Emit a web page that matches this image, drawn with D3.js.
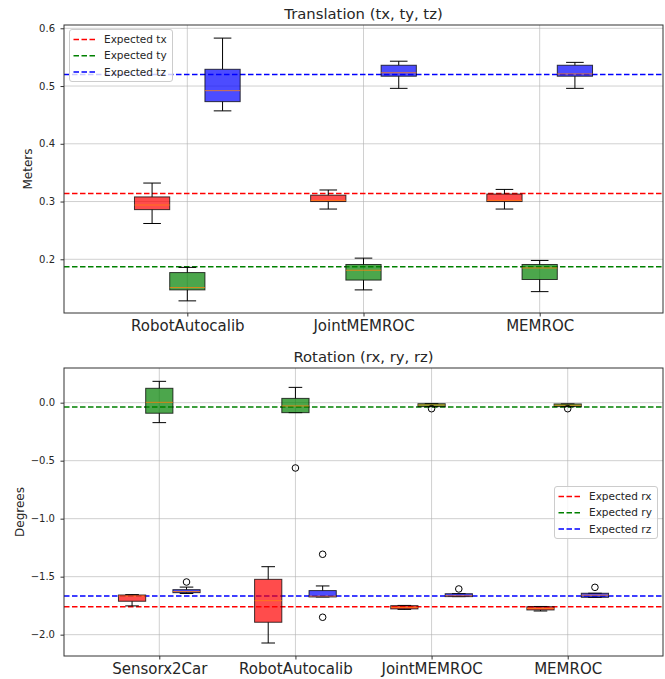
<!DOCTYPE html>
<html>
  <head>
    <meta charset="utf-8">
    <title>Translation and Rotation box plots</title>
    <script src="https://cdn.jsdelivr.net/npm/d3@7"></script>
    <style>
      body { margin: 0; background: #fff; }
      text { font-family: "DejaVu Sans", sans-serif; fill: #262626; }
    </style>
  </head>
  <body>
    <div id="chart"></div>

    <script>
      // Box stats: [low whisker, q1, median, q3, high whisker]
      const transMethods = ['RobotAutocalib', 'JointMEMROC', 'MEMROC'];
      const txStats = [[0.262, 0.286, 0.294, 0.308, 0.332], [0.287, 0.300, 0.302, 0.311, 0.320], [0.287, 0.300, 0.302, 0.313, 0.321]];
      const tyStats = [[0.128, 0.147, 0.151, 0.177, 0.186], [0.147, 0.164, 0.181, 0.191, 0.202], [0.144, 0.165, 0.185, 0.191, 0.198]];
      const tzStats = [[0.457, 0.473, 0.492, 0.529, 0.583], [0.496, 0.517, 0.523, 0.536, 0.543], [0.496, 0.517, 0.521, 0.536, 0.541]];
      const txOutliers = [[], [], []];
      const tyOutliers = [[], [], []];
      const tzOutliers = [[], [], []];
      const expectedT = [0.314, 0.187, 0.520];

      const rotMethods = ['Sensorx2Car', 'RobotAutocalib', 'JointMEMROC', 'MEMROC'];
      const rxStats = [[-1.752, -1.712, -1.667, -1.658, -1.655], [-2.072, -1.893, -1.707, -1.523, -1.414], [-1.782, -1.778, -1.765, -1.750, -1.748], [-1.796, -1.787, -1.775, -1.759, -1.757]];
      const ryStats = [[-0.172, -0.091, 0.003, 0.124, 0.184], [-0.086, -0.086, -0.028, 0.037, 0.132], [-0.034, -0.034, -0.020, -0.009, -0.009], [-0.034, -0.034, -0.022, -0.011, -0.011]];
      const rzStats = [[-1.645, -1.638, -1.628, -1.612, -1.590], [-1.675, -1.675, -1.668, -1.620, -1.580], [-1.672, -1.672, -1.665, -1.647, -1.647], [-1.678, -1.678, -1.660, -1.643, -1.643]];
      const rxOutliers = [[], [], [], []];
      const ryOutliers = [[], [-0.563], [-0.052], [-0.052]];
      const rzOutliers = [[-1.546], [-1.307, -1.850], [-1.606], [-1.592]];
      const expectedR = [-1.759, -0.037, -1.666];

      const colors = ['red', 'green', 'blue'];

      const svg = d3.select('#chart')
        .append('svg')
        .attr('width', 665)
        .attr('height', 679);

      function panel(opts) {
        const g = svg.append('g');
        const x = d3.scaleLinear().domain([0.3, opts.methods.length + 0.7]).range([64, 663]);
        const y = d3.scaleLinear().domain(opts.yDomain).range([opts.bottom, opts.top]);
        const unit = x(1) - x(0);

        // grid
        g.selectAll('.hgrid')
          .data(opts.yTicks)
          .enter()
          .append('line')
          .attr('x1', 64).attr('x2', 663)
          .attr('y1', d => y(d)).attr('y2', d => y(d))
          .attr('stroke', '#b0b0b0').attr('stroke-opacity', 0.6).attr('stroke-width', 1);
        g.selectAll('.vgrid')
          .data(opts.methods)
          .enter()
          .append('line')
          .attr('x1', (d, i) => x(i + 1)).attr('x2', (d, i) => x(i + 1))
          .attr('y1', opts.top).attr('y2', opts.bottom)
          .attr('stroke', '#b0b0b0').attr('stroke-opacity', 0.6).attr('stroke-width', 1);

        // expected lines
        g.selectAll('.expected')
          .data(opts.expected)
          .enter()
          .append('line')
          .attr('x1', 64).attr('x2', 663)
          .attr('y1', d => y(d)).attr('y2', d => y(d))
          .attr('stroke', (d, i) => colors[i])
          .attr('stroke-width', 1.5)
          .attr('stroke-dasharray', '5.5,2.5');

        // boxes
        opts.series.forEach((s, si) => {
          const offset = (si - 1) * 0.2;
          s.stats.forEach((st, mi) => {
            const cx = x(mi + 1 + offset);
            const bw = 0.2 * unit;
            const cw = bw / 2;
            const bx = g.append('g');
            // whiskers
            bx.append('line').attr('x1', cx).attr('x2', cx).attr('y1', y(st[0])).attr('y2', y(st[1]))
              .attr('stroke', '#000').attr('stroke-width', 1);
            bx.append('line').attr('x1', cx).attr('x2', cx).attr('y1', y(st[3])).attr('y2', y(st[4]))
              .attr('stroke', '#000').attr('stroke-width', 1);
            [st[0], st[4]].forEach(v => {
              bx.append('line').attr('x1', cx - cw / 2).attr('x2', cx + cw / 2).attr('y1', y(v)).attr('y2', y(v))
                .attr('stroke', '#000').attr('stroke-width', 1);
            });
            bx.append('rect')
              .attr('x', cx - bw / 2)
              .attr('y', y(st[3]))
              .attr('width', bw)
              .attr('height', Math.max(0.5, y(st[1]) - y(st[3])))
              .attr('fill', colors[si]).attr('fill-opacity', 0.7)
              .attr('stroke', '#000').attr('stroke-opacity', 0.75).attr('stroke-width', 1);
            bx.append('line').attr('x1', cx - bw / 2).attr('x2', cx + bw / 2)
              .attr('y1', y(st[2])).attr('y2', y(st[2]))
              .attr('stroke', '#ff7f0e').attr('stroke-opacity', 0.8).attr('stroke-width', 1);
            s.outliers[mi].forEach(v => {
              bx.append('circle').attr('cx', cx).attr('cy', y(v)).attr('r', 3.3)
                .attr('fill', 'none').attr('stroke', '#000').attr('stroke-width', 1);
            });
          });
        });

        // frame
        g.append('rect')
          .attr('x', 64).attr('y', opts.top)
          .attr('width', 663 - 64).attr('height', opts.bottom - opts.top)
          .attr('fill', 'none').attr('stroke', '#333').attr('stroke-width', 1);

        // y axis
        const yAxis = g.append('g')
          .attr('transform', 'translate(64,0)')
          .call(d3.axisLeft(y).tickValues(opts.yTicks).tickSize(3.5).tickPadding(5.5).tickFormat(d3.format('.1f')));
        yAxis.select('.domain').remove();
        yAxis.selectAll('text').style('font-size', '10px').text(d => d3.format('.1f')(d).replace('-', '\u2212'));
        yAxis.selectAll('line').attr('stroke', '#333');

        // x axis
        const xAxis = g.append('g')
          .attr('transform', `translate(0,${opts.bottom})`)
          .call(d3.axisBottom(x).tickValues(opts.methods.map((d, i) => i + 1)).tickSize(3.5).tickPadding(4)
            .tickFormat((d, i) => opts.methods[i]));
        xAxis.select('.domain').remove();
        xAxis.selectAll('text').style('font-size', '15px');
        xAxis.selectAll('line').attr('stroke', '#333');

        // title and y label
        g.append('text')
          .attr('x', (64 + 663) / 2).attr('y', opts.top - 6.5)
          .attr('text-anchor', 'middle')
          .style('font-size', '14.8px')
          .text(opts.title);
        g.append('text')
          .attr('transform', `translate(${opts.ylabelX},${(opts.top + opts.bottom) / 2}) rotate(-90)`)
          .attr('text-anchor', 'middle')
          .style('font-size', '12px')
          .text(opts.ylabel);

        // legend
        const lg = g.append('g').attr('transform', `translate(${opts.legend[0]},${opts.legend[1]})`);
        lg.append('rect')
          .attr('width', 103).attr('height', 52).attr('rx', 2.5)
          .attr('fill', '#fff').attr('fill-opacity', 0.8)
          .attr('stroke', '#ccc').attr('stroke-width', 1);
        opts.legendLabels.forEach((lab, i) => {
          const ly = 10 + i * 16.2;
          lg.append('line')
            .attr('x1', 4).attr('x2', 27).attr('y1', ly).attr('y2', ly)
            .attr('stroke', colors[i]).attr('stroke-width', 1.5).attr('stroke-dasharray', '5.5,2.5');
          lg.append('text')
            .attr('x', 34.5).attr('y', ly + 3.7)
            .style('font-size', '10.5px')
            .text(lab);
        });
      }

      panel({
        methods: transMethods,
        series: [
          { stats: txStats, outliers: txOutliers },
          { stats: tyStats, outliers: tyOutliers },
          { stats: tzStats, outliers: tzOutliers },
        ],
        expected: expectedT,
        yDomain: [0.107, 0.6057],
        yTicks: [0.2, 0.3, 0.4, 0.5, 0.6],
        top: 25, bottom: 313,
        title: 'Translation (tx, ty, tz)',
        ylabel: 'Meters', ylabelX: 32,
        legend: [69.5, 29.5],
        legendLabels: ['Expected tx', 'Expected ty', 'Expected tz'],
      });

      panel({
        methods: rotMethods,
        series: [
          { stats: rxStats, outliers: rxOutliers },
          { stats: ryStats, outliers: ryOutliers },
          { stats: rzStats, outliers: rzOutliers },
        ],
        expected: expectedR,
        yDomain: [-2.184, 0.299],
        yTicks: [-2.0, -1.5, -1.0, -0.5, 0.0],
        top: 368, bottom: 656,
        title: 'Rotation (rx, ry, rz)',
        ylabel: 'Degrees', ylabelX: 24,
        legend: [554.5, 486.5],
        legendLabels: ['Expected rx', 'Expected ry', 'Expected rz'],
      });
    </script>
  </body>
</html>
